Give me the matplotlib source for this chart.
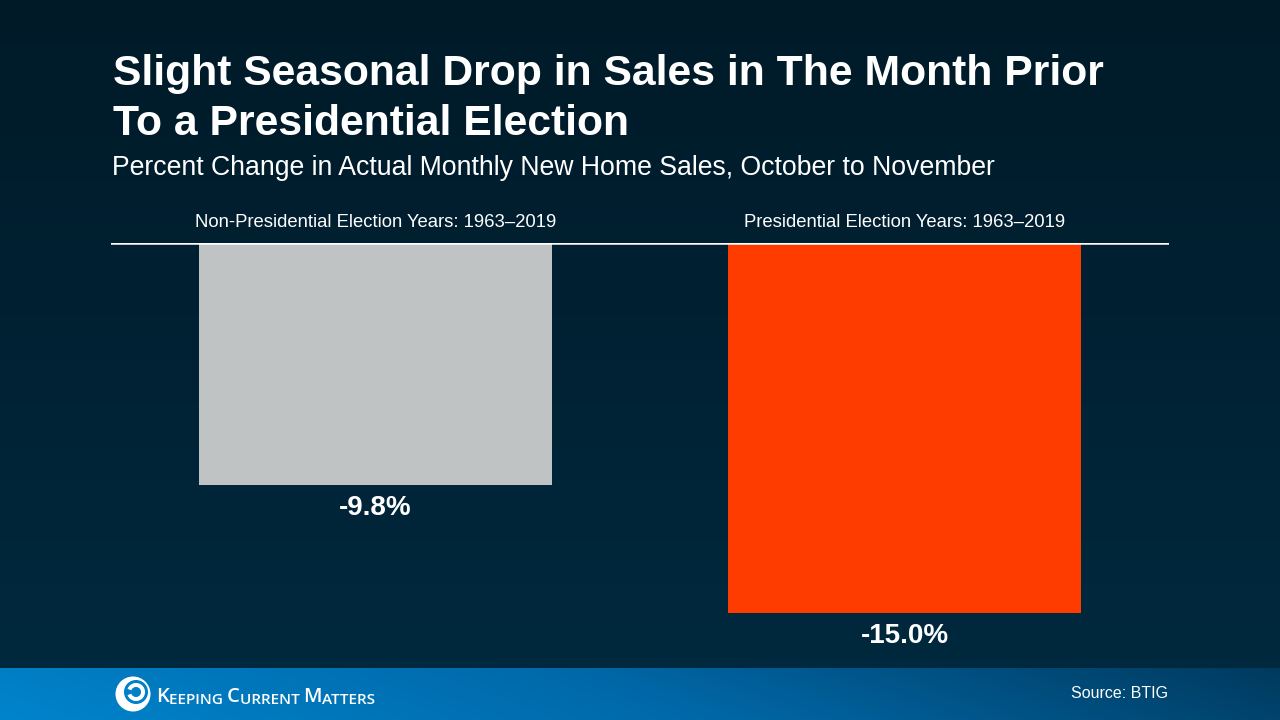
import numpy as np
import matplotlib.pyplot as plt
from matplotlib.patches import Circle, Wedge
from matplotlib.colors import LinearSegmentedColormap

# dane
categories = ['Non-Presidential Election Years: 1963–2019',
              'Presidential Election Years: 1963–2019']
values = [-9.8, -15.0]
value_labels = ['-9.8%', '-15.0%']
bar_colors = ['#bfc3c4', '#ff3c00']

title = 'Slight Seasonal Drop in Sales in The Month Prior\nTo a Presidential Election'
subtitle = 'Percent Change in Actual Monthly New Home Sales, October to November'
source = 'Source: BTIG'

plt.rcParams['font.family'] = ['Liberation Sans', 'DejaVu Sans']

W, H = 1280, 720
fig = plt.figure(figsize=(12.8, 7.2), dpi=100)

# tlo - gradient pionowy
bg = fig.add_axes([0, 0, 1, 1])
bg_cmap = LinearSegmentedColormap.from_list('bg', ['#001a28', '#002a40'])
grad = np.linspace(0, 1, 256).reshape(-1, 1)
bg.imshow(grad, cmap=bg_cmap, aspect='auto', extent=[0, W, H, 0])
# stopka - gradient poziomy
foot_cmap = LinearSegmentedColormap.from_list('ft', ['#0084cc', '#0068a8', '#013a5e'])
xx, yy = np.meshgrid(np.linspace(0, 1, 400), np.linspace(0, 1, 40))
bg.imshow(np.clip(xx * 0.9 + (1 - yy) * 0.1, 0, 1), cmap=foot_cmap, aspect='auto',
          extent=[0, W, H, 668])
bg.set_xlim(0, W)
bg.set_ylim(H, 0)
bg.axis('off')

# logo
bg.add_patch(Circle((133, 694), 17.5, color='white', lw=0))
bg.add_patch(Circle((136, 692), 12, color='#0080c8', lw=0))
bg.add_patch(Wedge((136, 692), 9, 200, 520, width=4, color='white', lw=0))
bg.add_patch(Circle((137, 692), 3, color='#0080c8', lw=0))
parts = [('K', 14.5), ('EEPING ', 11), ('C', 14.5), ('URRENT ', 11), ('M', 14.5), ('ATTERS', 11)]
prev = bg.text(156, 702, parts[0][0], color='white', fontsize=parts[0][1],
               family='Open Sans', fontweight='semibold', va='baseline', ha='left')
for txt, fs in parts[1:]:
    prev = bg.annotate(txt, xy=(1, 0), xycoords=prev, va='bottom', ha='left',
                       color='white', fontsize=fs, family='Open Sans', fontweight='semibold')

# teksty
fig.text(113 / W, 1 - 54 / H, title, color='white', fontsize=30.7, fontweight='bold',
         va='top', ha='left', linespacing=1.32)
fig.text(112 / W, 1 - 168 / H, subtitle, color='white', fontsize=19.2, va='center', ha='left')
fig.text(1168 / W, 1 - 694 / H, source, color='white', fontsize=11.5, va='center', ha='right')

# wykres
ax = fig.add_axes([111 / W, 60 / H, 1058 / W, (660 - 243) / H])
ax.patch.set_alpha(0)
x = np.arange(len(categories))
ax.bar(x, values, width=0.667, color=bar_colors, zorder=2)
ax.axhline(0, color='white', lw=1.8, zorder=3)
ax.set_xlim(-0.5, 1.5)
ax.set_ylim(-16.92, 0)
for i, (v, lab) in enumerate(zip(values, value_labels)):
    ax.text(i, v - 0.95, lab, color='white', fontsize=20, fontweight='bold',
            ha='center', va='center')
for i, c in enumerate(categories):
    ax.text(i, 0.85, c, color='white', fontsize=13.3, ha='center', va='center')
ax.axis('off')

fig.savefig('out.png', dpi=100)
